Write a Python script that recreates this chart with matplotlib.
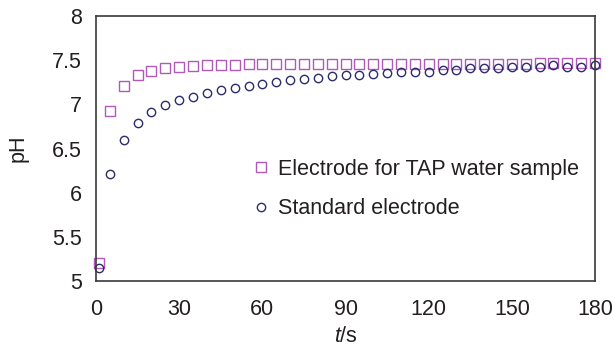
import matplotlib.pyplot as plt

plt.rcParams['font.family'] = ['Liberation Sans', 'DejaVu Sans']
plt.rcParams['mathtext.fontset'] = 'custom'
plt.rcParams['mathtext.rm'] = 'Liberation Sans'
plt.rcParams['mathtext.it'] = 'Liberation Sans:italic'

# time (s)
t = [1, 5, 10, 15, 20, 25, 30, 35, 40, 45, 50, 55, 60, 65, 70, 75, 80, 85, 90,
     95, 100, 105, 110, 115, 120, 125, 130, 135, 140, 145, 150, 155, 160, 165,
     170, 175, 180]

# electrode for TAP water sample
ph_tap = [5.20, 6.92, 7.21, 7.33, 7.38, 7.41, 7.42, 7.43, 7.45, 7.45, 7.45,
          7.46, 7.46, 7.46, 7.46, 7.46, 7.46, 7.46, 7.46, 7.46, 7.46, 7.46,
          7.46, 7.46, 7.46, 7.46, 7.46, 7.46, 7.46, 7.46, 7.46, 7.46, 7.47,
          7.47, 7.47, 7.47, 7.47]

# standard electrode
ph_std = [5.15, 6.21, 6.60, 6.79, 6.91, 6.99, 7.05, 7.08, 7.13, 7.16, 7.19,
          7.21, 7.23, 7.25, 7.27, 7.29, 7.30, 7.32, 7.33, 7.33, 7.34, 7.35,
          7.37, 7.37, 7.37, 7.39, 7.39, 7.41, 7.41, 7.41, 7.42, 7.42, 7.42,
          7.44, 7.42, 7.42, 7.44]

xticks = [0, 30, 60, 90, 120, 150, 180]
yticks = [5, 5.5, 6, 6.5, 7, 7.5, 8]
ytick_labels = ['5', '5.5', '6', '6.5', '7', '7.5', '8']

fs = 15.5
txt = '#231f20'

fig = plt.figure(figsize=(6.14, 3.47), dpi=100)
ax = fig.add_axes([0.1564, 0.19, 0.8127, 0.764])

ax.plot(t, ph_tap, 's', ms=6.5, mfc='none', mec='#b05ab8', mew=1.0,
        linestyle='none', label='Electrode for TAP water sample', clip_on=False)
ax.plot(t, ph_std, 'o', ms=6, mfc='none', mec='#2b2d6b', mew=1.0,
        linestyle='none', label='Standard electrode', clip_on=False)

ax.set_xlim(0, 180)
ax.set_ylim(5, 8)
ax.set_xticks(xticks)
ax.set_yticks(yticks)
ax.set_yticklabels(ytick_labels)
ax.tick_params(length=0, labelsize=fs, colors=txt)
ax.tick_params(axis='x', pad=13)
ax.tick_params(axis='y', pad=10)
for s in ax.spines.values():
    s.set_color('#3a3a3a')
    s.set_linewidth(1.2)

ax.set_xlabel(r'$\mathit{t}$/s', fontsize=fs, color=txt, labelpad=4)
ax.set_ylabel('pH', fontsize=fs, color=txt, labelpad=17)

ax.legend(loc='center left', bbox_to_anchor=(0.265, 0.348), frameon=False,
          fontsize=fs, handletextpad=0.2, labelspacing=0.86, handlelength=1.2,
          labelcolor=txt)

fig.savefig('out.png', dpi=100)
